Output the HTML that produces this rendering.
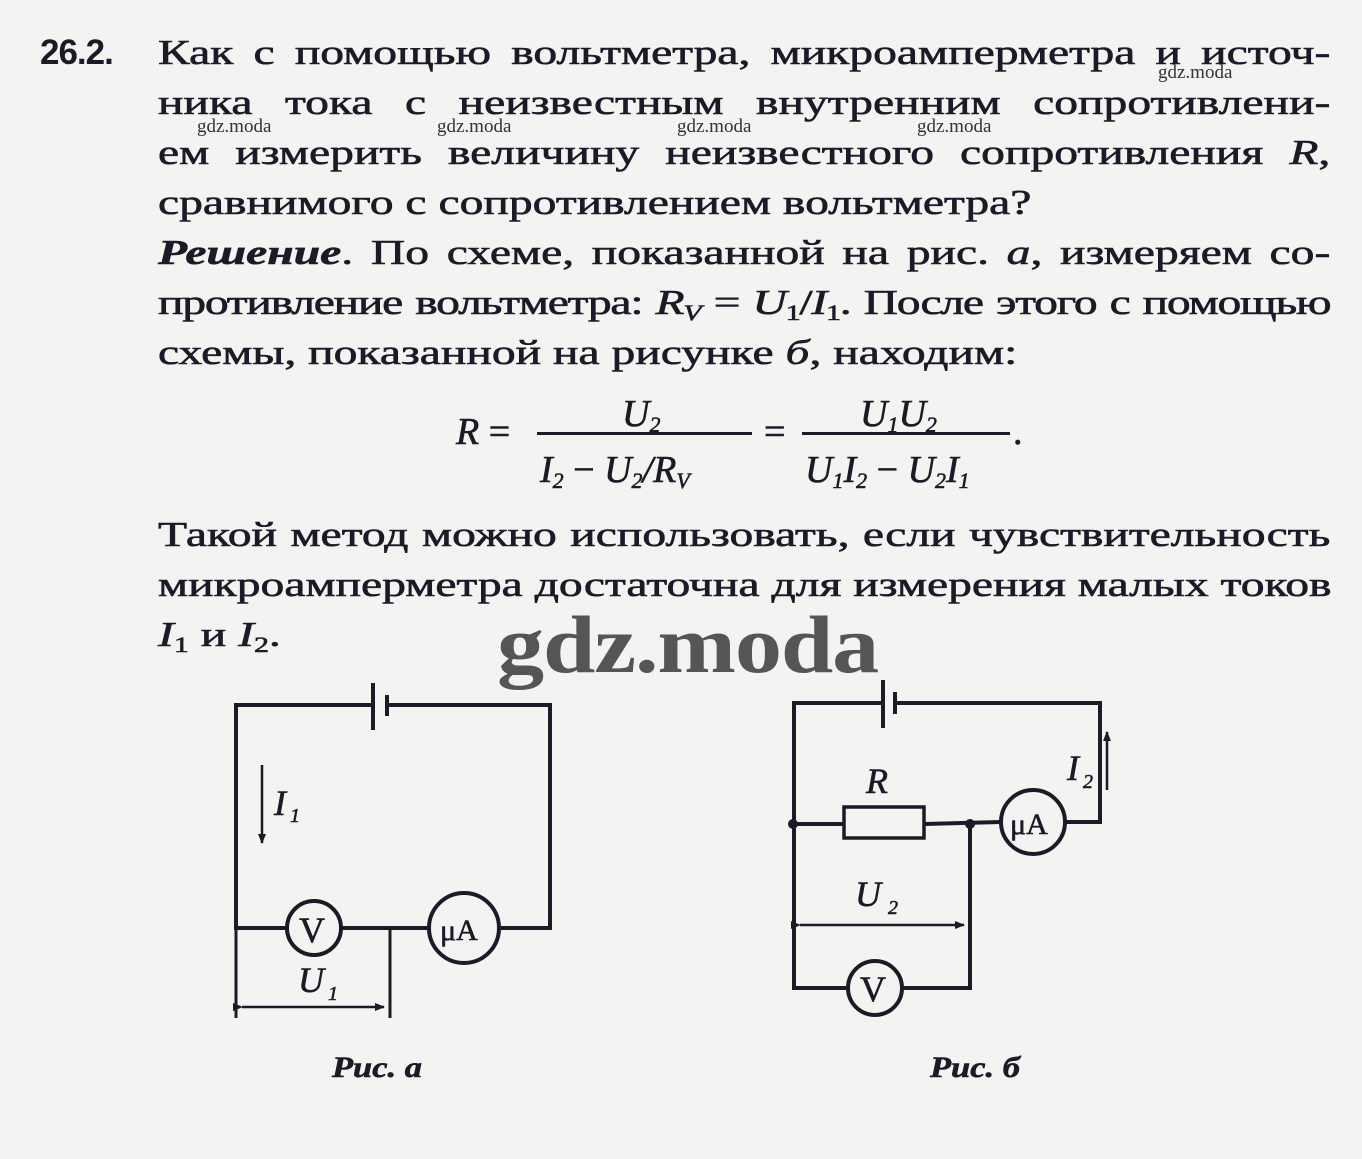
<!DOCTYPE html>
<html><head><meta charset="utf-8">
<style>
body{margin:0;width:1362px;height:1159px;background:#f3f3f1;position:relative;overflow:hidden;font-family:"Liberation Serif",serif;color:#1b1b28}
.l{position:absolute;left:158px;width:862px;font-size:35px;line-height:40px;text-align:justify;text-align-last:justify;white-space:nowrap;-webkit-text-stroke:0.6px #1b1b28;transform:scaleX(1.36);transform-origin:0 0}
.l.n{text-align-last:left}
.num{position:absolute;left:40px;top:33px;font-family:"Liberation Sans",sans-serif;font-weight:bold;font-size:35px;letter-spacing:-1px}
.wm{position:absolute;font-size:19px;color:#333;font-family:"Liberation Serif",serif}
i{font-style:italic}
sub{font-size:22px;vertical-align:-6px}
.m{position:absolute;font-size:38px;font-style:italic;-webkit-text-stroke:0.6px #1b1b28;white-space:nowrap}
</style></head><body>
<div class="num">26.2.</div>
<div class="l" style="top:33px">Как с помощью вольтметра, микроамперметра и источ-</div>
<div class="l" style="top:83px">ника тока с неизвестным внутренним сопротивлени-</div>
<div class="l" style="top:133px">ем измерить величину неизвестного сопротивления <i>R</i>,</div>
<div class="l n" style="top:183px">сравнимого с сопротивлением вольтметра?</div>
<div class="l" style="top:233px"><b><i>Решение</i></b>. По схеме, показанной на рис. <i>а</i>, измеряем со-</div>
<div class="l" style="top:283px;letter-spacing:-0.9px;word-spacing:-2px">противление вольтметра: <i>R</i><sub><i>V</i></sub> = <i>U</i><sub>1</sub>/<i>I</i><sub>1</sub>. После этого с помощью</div>
<div class="l n" style="top:333px">схемы, показанной на рисунке <i>б</i>, находим:</div>
<div class="l" style="top:515px">Такой метод можно использовать, если чувствительность</div>
<div class="l" style="top:565px">микроамперметра достаточна для измерения малых токов</div>
<div class="l n" style="top:615px"><i>I</i><sub>1</sub> и <i>I</i><sub>2</sub>.</div>

<div class="wm" style="left:1158px;top:62px">gdz.moda</div>
<div class="wm" style="left:197px;top:116px">gdz.moda</div>
<div class="wm" style="left:437px;top:116px">gdz.moda</div>
<div class="wm" style="left:677px;top:116px">gdz.moda</div>
<div class="wm" style="left:917px;top:116px">gdz.moda</div>
<div style="position:absolute;left:497px;top:598px;font-size:82px;font-weight:bold;color:#555;letter-spacing:-1px;font-family:'Liberation Serif',serif;transform:scaleX(1.15);transform-origin:0 0">gdz.moda</div>

<div class="m" style="left:456px;top:410px">R <span style="font-style:normal">=</span></div>
<div class="m" style="left:622px;top:392px">U<sub>2</sub></div>
<div style="position:absolute;left:537px;top:432px;width:215px;height:3px;background:#1b1b28"></div>
<div class="m" style="left:540px;top:448px">I<sub>2</sub> <span style="font-style:normal">−</span> U<sub>2</sub>/R<sub>V</sub></div>
<div class="m" style="left:764px;top:410px;font-style:normal">=</div>
<div class="m" style="left:860px;top:392px">U<sub>1</sub>U<sub>2</sub></div>
<div style="position:absolute;left:802px;top:432px;width:208px;height:3px;background:#1b1b28"></div>
<div class="m" style="left:805px;top:448px">U<sub>1</sub>I<sub>2</sub> <span style="font-style:normal">−</span> U<sub>2</sub>I<sub>1</sub></div>
<div class="m" style="left:1013px;top:410px;font-style:normal">.</div>

<svg width="1362" height="1159" style="position:absolute;left:0;top:0" font-family="Liberation Serif">
<defs><marker id="a" markerWidth="10" markerHeight="8" refX="9" refY="4" orient="auto" markerUnits="userSpaceOnUse"><path d="M0,0 L10,4 L0,8z" fill="#1b1b28"/></marker></defs>
<g stroke="#1b1b28" stroke-width="4" fill="none">
<polyline points="373,705 236,705 236,928 287,928"/>
<polyline points="387,705 550,705 550,928 499,928"/>
<line x1="373" y1="683" x2="373" y2="730"/>
<line x1="387" y1="695" x2="387" y2="716"/>
<line x1="341" y1="928" x2="429" y2="928"/>
<circle cx="314" cy="928" r="27"/>
<circle cx="464" cy="928" r="35"/>
<line x1="236" y1="928" x2="236" y2="1018" stroke-width="3"/>
<line x1="390" y1="928" x2="390" y2="1018" stroke-width="3"/>
<line x1="242" y1="1007" x2="384" y2="1007" stroke-width="2.5" marker-end="url(#a)" marker-start="url(#a)"/>
<line x1="262" y1="765" x2="262" y2="843" stroke-width="2.5" marker-end="url(#a)"/>
<polyline points="883,703 794,703 794,824 843,824"/>
<polyline points="895,703 1100,703 1100,822 1065,822"/>
<line x1="883" y1="680" x2="883" y2="728"/>
<line x1="895" y1="692" x2="895" y2="714"/>
<rect x="844" y="807" width="80" height="31" stroke-width="3.5"/>
<line x1="924" y1="824" x2="1001" y2="822"/>
<circle cx="1033" cy="822" r="32"/>
<polyline points="794,824 794,988 848,988"/>
<polyline points="902,988 970,988 970,824"/>
<circle cx="875" cy="988" r="27"/>
<line x1="800" y1="925" x2="964" y2="925" stroke-width="2.5" marker-end="url(#a)" marker-start="url(#a)"/>
<line x1="1107" y1="790" x2="1107" y2="732" stroke-width="2.5" marker-end="url(#a)"/>
</g>
<circle cx="793" cy="824" r="5" fill="#1b1b28"/>
<circle cx="970" cy="824" r="5" fill="#1b1b28"/>
<g fill="#1b1b28" font-size="36" stroke="#1b1b28" stroke-width="0.6">
<text x="299" y="942">V</text>
<text x="440" y="940" font-size="30">μA</text>
<text x="860" y="1001">V</text>
<text x="1010" y="834" font-size="30">μA</text>
<g font-style="italic">
<text x="274" y="815">I</text><text x="290" y="822" font-size="20">1</text>
<text x="298" y="992">U</text><text x="328" y="1000" font-size="20">1</text>
<text x="866" y="793">R</text>
<text x="855" y="906">U</text><text x="888" y="914" font-size="20">2</text>
<text x="1067" y="780">I</text><text x="1083" y="788" font-size="20">2</text>
<text x="332" y="1077" font-weight="bold" font-size="30" transform="translate(332 0) scale(1.15 1) translate(-332 0)">Рис. а</text>
<text x="930" y="1077" font-weight="bold" font-size="30" transform="translate(930 0) scale(1.15 1) translate(-930 0)">Рис. б</text>
</g></g>
</svg>
</body></html>
